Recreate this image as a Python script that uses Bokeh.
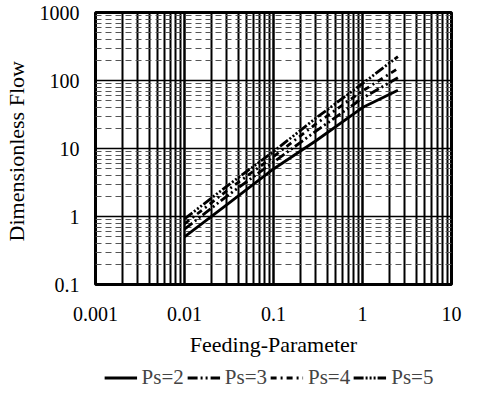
from bokeh.plotting import figure
from bokeh.layouts import column
from bokeh.models import FixedTicker, CustomJSTickFormatter, Legend, LegendItem
from bokeh.embed import file_html
from bokeh.resources import INLINE

x_vals = [0.01, 0.03, 0.1, 0.3, 1, 2.5]
ps2 = [0.5, 1.5, 5.0, 13, 40, 72]
ps3 = [0.65, 2.0, 6.3, 18, 55, 110]
ps4 = [0.78, 2.4, 7.6, 23, 70, 150]
ps5 = [0.92, 2.8, 9.0, 28, 90, 225]
series_labels = ["Ps=2", "Ps=3", "Ps=4", "Ps=5"]
x_ticks = [0.001, 0.01, 0.1, 1, 10]
y_ticks = [0.1, 1, 10, 100, 1000]

FONT = "Liberation Serif"

p = figure(width=465, frame_width=356, frame_height=272, x_axis_type="log", y_axis_type="log",
           x_range=(0.001, 10), y_range=(0.1, 1000),
           output_backend="svg", toolbar_location=None,
           min_border_left=0, min_border_right=23, min_border_top=12, min_border_bottom=78)

xminor = [k * t for t in x_ticks[:-1] for k in range(2, 10)]
yminor = [k * t for t in y_ticks[:-1] for k in range(2, 10)]
p.xaxis.ticker = FixedTicker(ticks=x_ticks, minor_ticks=xminor)
p.yaxis.ticker = FixedTicker(ticks=y_ticks, minor_ticks=yminor)
fmt = "return tick.toString();"
p.xaxis.formatter = CustomJSTickFormatter(code=fmt)
p.yaxis.formatter = CustomJSTickFormatter(code=fmt)

for ax in (p.xaxis, p.yaxis):
    ax.major_label_text_font = FONT
    ax.major_label_text_font_size = "20px"
    ax.major_label_text_color = "black"
    ax.axis_label_text_font = FONT
    ax.axis_label_text_font_size = "22px"
    ax.axis_label_text_font_style = "normal"
    ax.axis_label_text_color = "black"
    ax.axis_line_color = None
    ax.minor_tick_line_color = None
    ax.major_tick_line_color = None

p.xaxis.axis_label = "Feeding-Parameter"
p.yaxis.axis_label = "Dimensionless  Flow"
p.xaxis.major_label_standoff = 16
p.xaxis.axis_label_standoff = 8
p.yaxis.major_label_standoff = 10
p.yaxis.axis_label_standoff = 8

p.xgrid.grid_line_color = "black"
p.xgrid.grid_line_width = 2.5
p.xgrid.minor_grid_line_color = "black"
p.xgrid.minor_grid_line_width = 2
p.ygrid.grid_line_color = "black"
p.ygrid.grid_line_width = 1.5
p.ygrid.minor_grid_line_color = "#555555"
p.ygrid.minor_grid_line_width = 1
p.ygrid.minor_grid_line_dash = "6 4"

p.outline_line_color = "black"
p.outline_line_width = 3
p.background_fill_color = "white"

dashes = ["solid", "10 3 2 3 2 3", "6 4 2 4", "10 2 2 2 2 2 2 2"]
series = [ps2, ps3, ps4, ps5]
for ys, d in zip(series, dashes):
    p.line(x_vals, ys, line_color="black", line_width=2.8, line_dash=d)

# legend strip below the chart (proxy lines lie outside its visible range)
lg = figure(width=465, height=30, x_range=(100, 101), y_range=(1000, 1001),
            output_backend="svg", toolbar_location=None, min_border=0)
lg.axis.visible = False
lg.grid.visible = False
lg.outline_line_color = None
proxies = [lg.line(x_vals, ys, line_color="black", line_width=2.8, line_dash=d)
           for ys, d in zip(series, dashes)]
legend = Legend(items=[LegendItem(label=l, renderers=[r]) for l, r in zip(series_labels, proxies)],
                orientation="horizontal", location="center",
                label_text_font=FONT, label_text_font_size="21px",
                glyph_width=33, glyph_height=20, label_standoff=5, spacing=3, padding=0, margin=0,
                border_line_color=None, background_fill_alpha=0)
lg.add_layout(legend)

layout = column(p, lg, spacing=0)
open("out.html", "w").write(file_html(layout, INLINE))
